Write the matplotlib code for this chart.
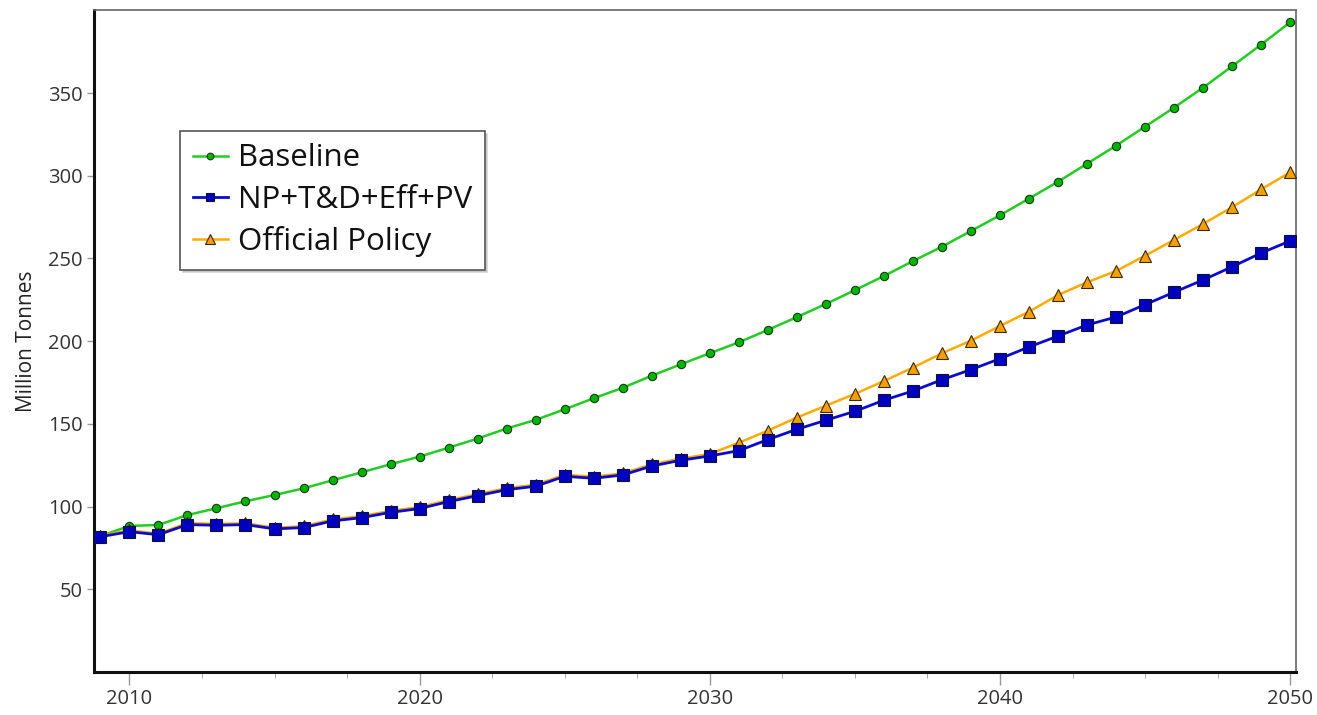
import numpy as np
import matplotlib
matplotlib.use("Agg")
import matplotlib.pyplot as plt
from matplotlib.ticker import MultipleLocator

plt.rcParams["font.family"] = ["Open Sans", "DejaVu Sans"]

years = list(range(2009, 2051))

baseline = [82.2, 88.3, 88.9, 94.9, 99.0, 103.2, 107.0, 111.0, 115.9, 120.7,
            125.6, 130.2, 135.6, 141.1, 147.2, 152.4, 158.8, 165.5, 171.8, 179.1,
            186.0, 192.7, 199.3, 206.8, 214.5, 222.5, 230.8, 239.4, 248.4, 257.1,
            266.6, 276.1, 286.2, 296.4, 307.3, 318.2, 329.7, 341.2, 353.3, 366.2,
            379.3, 392.8]

np_td_eff_pv = [81.8, 84.8, 83.0, 89.1, 88.7, 89.1, 86.5, 87.3, 91.3, 93.3,
                96.5, 98.8, 103.0, 106.6, 110.2, 112.3, 118.3, 117.1, 119.1, 124.5,
                128.0, 130.6, 133.8, 140.5, 146.7, 152.2, 157.6, 164.3, 169.9, 176.7,
                182.8, 189.4, 196.5, 203.1, 209.8, 214.6, 222.1, 229.6, 237.0, 245.0,
                253.3, 260.6]

official_policy = [82.4, 85.6, 83.6, 90.0, 89.5, 89.9, 87.2, 88.1, 92.2, 94.2,
                   97.4, 99.7, 103.9, 107.5, 111.1, 113.2, 119.2, 118.0, 120.1, 125.5,
                   129.0, 131.8, 138.6, 145.9, 153.8, 161.0, 168.1, 175.9, 184.0, 192.7,
                   200.3, 209.2, 217.8, 227.9, 235.6, 242.4, 251.7, 261.2, 270.9, 281.0,
                   291.8, 302.1]

fig = plt.figure(figsize=(13.17, 7.15), dpi=100)
ax = fig.add_axes([94 / 1317, 43 / 715, 1202 / 1317, 662.5 / 715])

ax.plot(years, baseline, "-o", color="#22cc22", lw=1.8, ms=6,
        mfc="#00b400", mec="#1a3a1a", mew=0.8, label="Baseline", zorder=3)
ax.plot(years, official_policy, "-^", color="#ffaa00", lw=1.8, ms=8.5,
        mfc="#f5a000", mec="#3a2a00", mew=0.8, label="Official Policy", zorder=3)
ax.plot(years, np_td_eff_pv, "-s", color="#0a0ad0", lw=2.0, ms=8,
        mfc="#0000c0", mec="#101030", mew=0.8, label="NP+T&D+Eff+PV", zorder=4)

ax.set_xlim(2008.78, 2050.2)
ax.set_ylim(0, 400.5)
ax.xaxis.set_major_locator(MultipleLocator(10))
ax.xaxis.set_minor_locator(MultipleLocator(2.5))
ax.set_yticks([50, 100, 150, 200, 250, 300, 350])

ax.tick_params(axis="both", which="major", labelsize=14.5, labelcolor="#333333",
               color="#999999", width=1)
ax.tick_params(axis="x", which="major", length=9, pad=3)
ax.tick_params(axis="x", which="minor", length=4, color="#999999")
ax.tick_params(axis="y", which="major", length=5, pad=3)

for side in ("left", "bottom"):
    ax.spines[side].set_color("#111111")
    ax.spines[side].set_linewidth(2.2)
for side in ("top", "right"):
    ax.spines[side].set_color("#666666")
    ax.spines[side].set_linewidth(1.2)

ax.set_ylabel("Million Tonnes", fontsize=15, color="#222222", labelpad=8)

# legend keeps series order Baseline / NP+T&D+Eff+PV / Official Policy
handles, labels = ax.get_legend_handles_labels()
order = [0, 2, 1]
leg = ax.legend([handles[i] for i in order], [labels[i] for i in order],
                loc="upper left", bbox_to_anchor=(180 / 1317, 1 - 131 / 715),
                bbox_transform=fig.transFigure, fontsize=22.5, frameon=True,
                fancybox=False, shadow={"color": "#bbbbbb", "alpha": 0.6},
                handlelength=1.15, handletextpad=0.3, labelspacing=0.36,
                borderpad=0.4, borderaxespad=0, markerscale=0.8)
leg.get_frame().set_edgecolor("#555555")
leg.get_frame().set_linewidth(1.2)
for t in leg.get_texts():
    t.set_color("#111111")

fig.savefig("out.png", dpi=100)
